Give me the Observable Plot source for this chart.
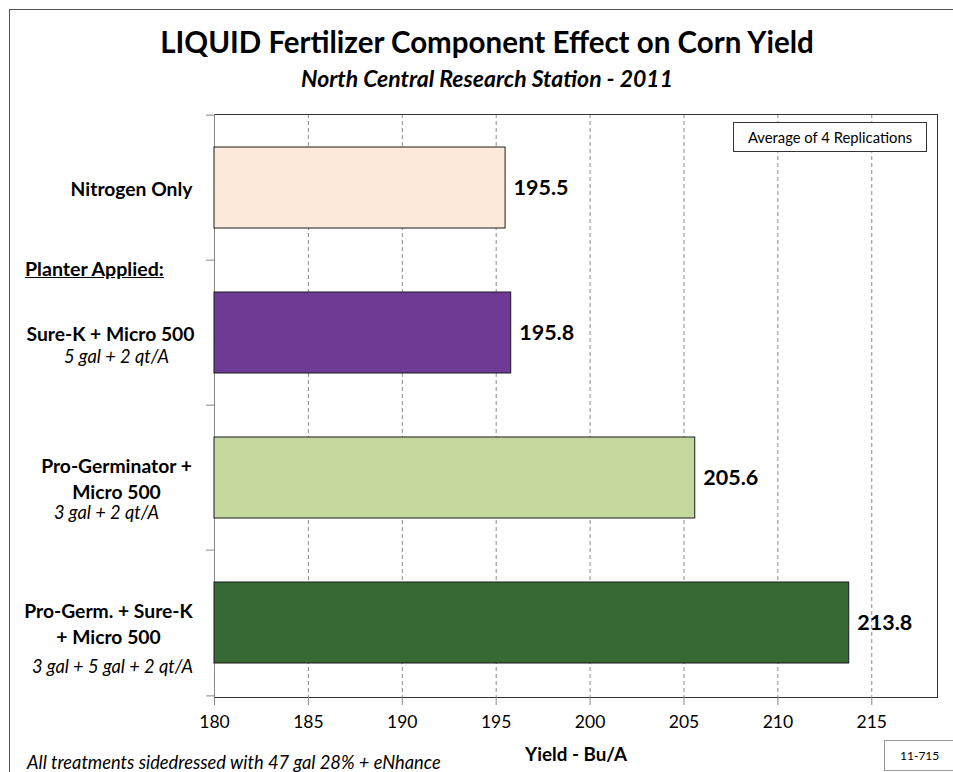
<!DOCTYPE html>
<html>
<head>
<meta charset="utf-8">
<script src="https://cdn.jsdelivr.net/npm/d3@7"></script>
<script src="https://cdn.jsdelivr.net/npm/@observablehq/plot@0.6"></script>
<style>
  html, body { margin: 0; padding: 0; background: #fff; overflow: hidden; }
  body { width: 953px; height: 772px; position: relative; font-family: Lato, "Open Sans", sans-serif; color: #000; }
  #chart { position: absolute; left: 0; top: 0; }
  .ov { position: absolute; white-space: nowrap; }
  #border { left: 9px; top: 9px; width: 1100px; height: 1100px; border: 1.5px solid #555; box-sizing: border-box; }
  #title { left: 0; width: 974px; top: 24px; text-align: center; font-weight: 700; font-size: 29.5px; line-height: 36px; }
  #subtitle { left: 0; width: 974px; top: 64px; text-align: center; font-weight: 700; font-style: italic; font-size: 23px; line-height: 28px; }
  #legend { left: 733px; top: 122px; width: 194px; height: 30px; border: 1px solid #333; box-sizing: border-box; text-align: center; line-height: 28px; font-size: 14.8px; background: #fff; }
  #planter { left: 25px; top: 257px; font-weight: 700; font-size: 19.6px; line-height: 24px; text-decoration: underline; }
  #footnote { left: 27px; top: 750px; font-style: italic; font-size: 18.3px; line-height: 24px; }
  #code { left: 884px; top: 740px; width: 75px; height: 31px; border: 1px solid #999; box-sizing: border-box; background: #fff; font-size: 12px; line-height: 29px; padding-left: 15px; }
</style>
</head>
<body>
<div id="chart"></div>
<div class="ov" id="border"></div>
<div class="ov" id="title">LIQUID Fertilizer Component Effect on Corn Yield</div>
<div class="ov" id="subtitle">North Central Research Station - 2011</div>
<div class="ov" id="legend">Average of 4 Replications</div>
<div class="ov" id="planter">Planter Applied:</div>
<div class="ov" id="footnote">All treatments sidedressed with 47 gal 28% + eNhance</div>
<div class="ov" id="code">11-715</div>
<script>
// ---- data ----
const treatments = ["Nitrogen Only", "Sure-K + Micro 500", "Pro-Germinator + Micro 500", "Pro-Germ. + Sure-K + Micro 500"];
const nameLines = [["Nitrogen Only"], ["Sure-K + Micro 500"], ["Pro-Germinator +", "Micro 500"], ["Pro-Germ. + Sure-K", "+ Micro 500"]];
const rates = ["", "5 gal + 2 qt/A", "3 gal + 2 qt/A", "3 gal + 5 gal + 2 qt/A"];
const yields = [195.5, 195.8, 205.6, 213.8];
const barColors = ["#FDE9D9", "#6F3A93", "#C4D79D", "#376934"];
const xTicks = [180, 185, 190, 195, 200, 205, 210, 215];
const xMax = 218.5;
const xTitle = "Yield - Bu/A";

const rows = treatments.map((t, i) => ({treatment: t, yield: yields[i]}));

// ---- layout ----
const W = 953, H = 772;
const mL = 214, mR = 16, mT = 114, mB = 75;
const step = (H - mT - mB) / treatments.length;
const labelCenter = [131, 110, 116, 108];   // label block centres (style)
const rateCenter = [0, 116, 106, 112];
const rateDy = [0, 24, 35, 44];

const labelMarks = [];
treatments.forEach((t, i) => {
  labelMarks.push(Plot.text([t], {
    y: d => d, text: () => nameLines[i].join("\n"),
    frameAnchor: "left", textAnchor: "middle", dx: labelCenter[i] - mL,
    fontSize: 19.3, fontWeight: "bold", lineHeight: 1.3, fill: "#000"
  }));
  if (rates[i]) {
    labelMarks.push(Plot.text([t], {
      y: d => d, text: () => rates[i],
      frameAnchor: "left", textAnchor: "middle", dx: rateCenter[i] - mL, dy: rateDy[i],
      fontSize: 18.3, fontStyle: "italic", fill: "#000"
    }));
  }
});

const chart = Plot.plot({
  width: W, height: H,
  marginLeft: mL, marginRight: mR, marginTop: mT, marginBottom: mB,
  style: {fontFamily: "Lato, 'Open Sans', sans-serif", background: "#fff", color: "#000"},
  x: {domain: [xTicks[0], xMax], axis: null},
  y: {domain: treatments, paddingInner: 0.44, paddingOuter: 0.22, axis: null},
  color: {domain: treatments, range: barColors},
  marks: [
    Plot.gridX(xTicks.slice(1), {stroke: "#8a8a8a", strokeOpacity: 1, strokeDasharray: "4,3"}),
    Plot.frame({stroke: "#333"}),
    Plot.ruleX([xTicks[0]], {stroke: "#888"}),
    Plot.axisX(xTicks, {tickSize: 8, tickPadding: 10, fontSize: 17.5, stroke: "#888", label: null}),
    Plot.axisY(treatments, {tickSize: 8, tickFormat: () => "", dy: -step / 2, stroke: "#888", label: null}),
    Plot.axisY([treatments[treatments.length - 1]], {tickSize: 8, tickFormat: () => "", dy: step / 2, stroke: "#888", label: null}),
    Plot.barX(rows, {x1: () => xTicks[0], x2: "yield", y: "treatment", fill: "treatment", stroke: "#1a1a1a", strokeWidth: 1}),
    Plot.text(rows, {x: "yield", y: "treatment", text: d => d.yield.toFixed(1), textAnchor: "start", dx: 8, fontSize: 21.5, fontWeight: "bold", fill: "#000"}),
    Plot.text([xTitle], {frameAnchor: "bottom", text: d => d, dy: 63, fontSize: 18.8, fontWeight: "bold", fill: "#000"}),
    ...labelMarks
  ]
});
document.getElementById("chart").appendChild(chart);
</script>
</body>
</html>
